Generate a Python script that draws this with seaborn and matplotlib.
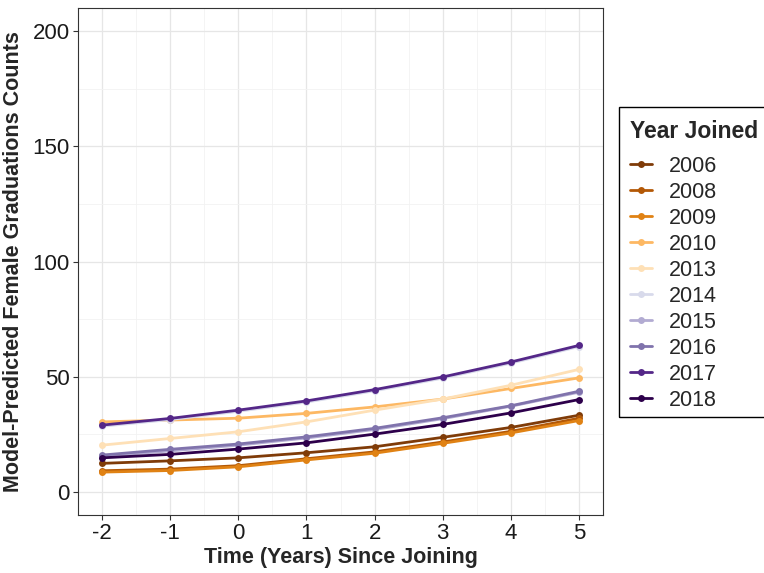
import numpy as np
import pandas as pd
import matplotlib
matplotlib.use('Agg')
import matplotlib.pyplot as plt
import seaborn as sns
from matplotlib.ticker import MultipleLocator
from matplotlib.patches import Rectangle

# values
years = ['2006', '2008', '2009', '2010', '2013', '2014', '2015', '2016', '2017', '2018']
time_points = [-2, -1, 0, 1, 2, 3, 4, 5]

y2006 = [12.4, 13.5, 14.8, 17.0, 19.6, 23.7, 28.0, 33.3]
y2008 = [9.2, 9.9, 11.4, 14.4, 17.4, 21.7, 26.3, 32.0]
y2009 = [8.6, 9.3, 10.9, 13.9, 16.8, 21.1, 25.6, 31.0]
y2010 = [30.4, 31.2, 32.0, 34.1, 36.9, 40.3, 44.9, 49.5]
y2013 = [20.3, 23.2, 26.1, 30.4, 35.5, 40.3, 46.3, 53.2]
y2014 = [28.5, 31.4, 35.0, 39.0, 43.9, 49.4, 55.9, 63.1]
y2015 = [15.5, 17.8, 20.3, 23.4, 27.1, 31.8, 37.2, 43.3]
y2016 = [16.0, 18.5, 20.8, 23.9, 27.6, 32.2, 37.4, 43.7]
y2017 = [29.0, 31.9, 35.5, 39.5, 44.4, 49.9, 56.4, 63.6]
y2018 = [14.8, 16.3, 18.6, 21.3, 25.1, 29.3, 34.3, 40.1]

all_series = [y2006, y2008, y2009, y2010, y2013, y2014, y2015, y2016, y2017, y2018]

colors = ['#7f3b08', '#b35806', '#e08214', '#fdb863', '#fee0b6',
          '#d8daeb', '#b2abd2', '#8073ac', '#542788', '#2d004b']

rows = []
for yr, vals in zip(years, all_series):
    for t, v in zip(time_points, vals):
        rows.append({'Year Joined': yr, 'time': t, 'count': v})
df = pd.DataFrame(rows)

sns.set_style('white')
plt.rcParams['font.family'] = ['Liberation Sans', 'DejaVu Sans']
plt.rcParams['axes.unicode_minus'] = False

W, H = 764, 573
fig = plt.figure(figsize=(W / 100, H / 100), dpi=100)
ax = fig.add_axes([78 / W, 1 - 515 / H, (603 - 78) / W, (515 - 8) / H])

sns.lineplot(data=df, x='time', y='count', hue='Year Joined', hue_order=years,
             palette=colors, marker='o', markersize=5, markeredgewidth=0,
             linewidth=2, ax=ax, legend=True)

ax.set_xlim(-2.35, 5.35)
ax.set_ylim(-10, 210)
ax.xaxis.set_major_locator(MultipleLocator(1))
ax.xaxis.set_minor_locator(MultipleLocator(0.5))
ax.yaxis.set_major_locator(MultipleLocator(50))
ax.yaxis.set_minor_locator(MultipleLocator(25))
ax.grid(which='major', color='#e6e6e6', linewidth=0.9)
ax.grid(which='minor', color='#f2f2f2', linewidth=0.6)
ax.set_axisbelow(True)
for s in ax.spines.values():
    s.set_color('#333333')
    s.set_linewidth(0.8)

ax.tick_params(axis='both', which='major', length=3.5, width=0.8, color='#333333',
               labelsize=16, labelcolor='#1a1a1a', pad=2.5, bottom=True, left=True)
ax.tick_params(which='minor', length=0)

ax.set_xlabel('Time (Years) Since Joining', fontsize=15.5, fontweight='bold', labelpad=2)
ax.set_ylabel('Model-Predicted Female Graduations Counts', fontsize=15.5,
              fontweight='bold', labelpad=6)

# legend box runs past the right edge of the picture, like the reference
frame = Rectangle((619 / W, 1 - 417 / H), 0.3, (417 - 107) / H,
                  transform=fig.transFigure, facecolor='none',
                  edgecolor='black', linewidth=1.0, clip_on=False, zorder=-1)
fig.patches.append(frame)

leg = ax.legend(title='Year Joined', loc='upper left',
                bbox_to_anchor=(624 / W, 1 - 114 / H), bbox_transform=fig.transFigure,
                fontsize=15.5, title_fontsize=16.5, frameon=False,
                handlelength=1.0, labelspacing=0.23, borderpad=0.3,
                handletextpad=0.8, borderaxespad=0)
leg.get_title().set_fontweight('bold')
leg._legend_box.align = 'left'
leg._legend_box.sep = 9

fig.savefig('out.png', dpi=100)
